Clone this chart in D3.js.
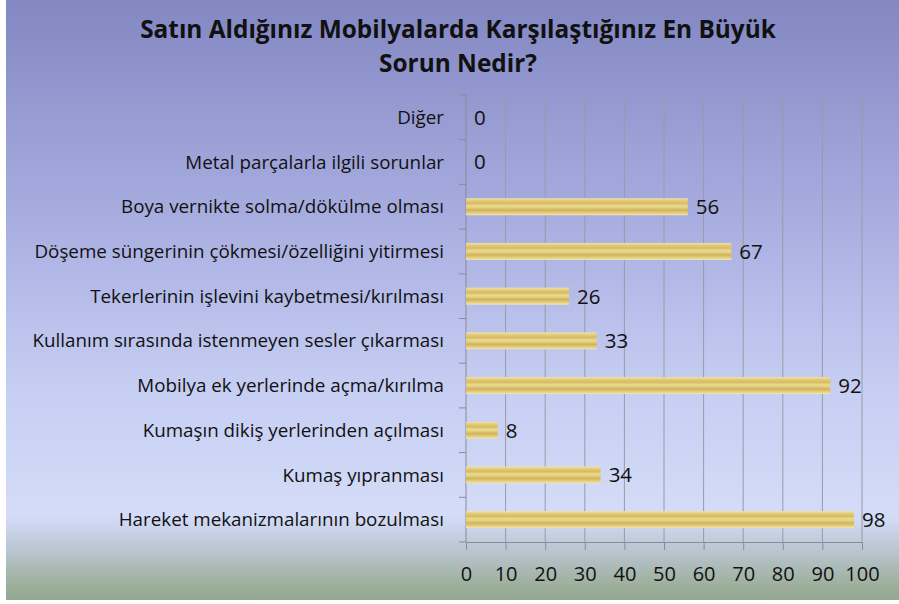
<!DOCTYPE html>
<html>
<head>
<meta charset="utf-8">
<script src="https://cdn.jsdelivr.net/npm/d3@7"></script>
<style>
  body { margin: 0; background: #fff; }
  svg text { font-family: "Open Sans", Lato, sans-serif; fill: #111; }
</style>
</head>
<body>
<svg id="chart" width="899" height="604"></svg>
<script>
// categories top to bottom as shown
var categories = [
  "Diğer",
  "Metal parçalarla ilgili sorunlar",
  "Boya vernikte solma/dökülme olması",
  "Döşeme süngerinin çökmesi/özelliğini yitirmesi",
  "Tekerlerinin işlevini kaybetmesi/kırılması",
  "Kullanım sırasında istenmeyen sesler çıkarması",
  "Mobilya ek yerlerinde açma/kırılma",
  "Kumaşın dikiş yerlerinden açılması",
  "Kumaş yıpranması",
  "Hareket mekanizmalarının bozulması"
];
var values = [0, 0, 56, 67, 26, 33, 92, 8, 34, 98];
var xTicks = [0, 10, 20, 30, 40, 50, 60, 70, 80, 90, 100];
var titleLines = ["Satın Aldığınız Mobilyalarda Karşılaştığınız En Büyük", "Sorun Nedir?"];

var svg = d3.select("#chart");
var defs = svg.append("defs");

var bg = defs.append("linearGradient").attr("id", "bg")
  .attr("x1", 0).attr("y1", 0).attr("x2", 0).attr("y2", 1);
[[0, "#8387c2"], [0.35, "#a7acdf"], [0.65, "#c6cef3"], [0.86, "#d4dcf8"], [0.92, "#b8c4cf"], [0.98, "#9bae98"], [1, "#93a98f"]]
  .forEach(function (s) { bg.append("stop").attr("offset", s[0]).attr("stop-color", s[1]); });

var bar = defs.append("linearGradient").attr("id", "bar")
  .attr("x1", 0).attr("y1", 0).attr("x2", 0).attr("y2", 1);
[[0, "#f0e2a6"], [0.15, "#e2cb78"], [0.3, "#d6bb62"], [0.45, "#ecd98f"], [0.55, "#e6d082"],
 [0.7, "#cfb35a"], [0.85, "#e2cc7c"], [1, "#f2e6b0"]]
  .forEach(function (s) { bar.append("stop").attr("offset", s[0]).attr("stop-color", s[1]); });

svg.append("rect").attr("x", 6).attr("y", 0).attr("width", 893).attr("height", 600)
  .attr("fill", "url(#bg)");

var margin = { left: 466, right: 37, top: 95, bottom: 62 };
var width = 899 - margin.left - margin.right;
var height = 604 - margin.top - margin.bottom;

var x = d3.scaleLinear().domain([0, 100]).range([0, width]);
var y = d3.scaleBand().domain(categories).range([0, height]).paddingInner(0.62).paddingOuter(0.31);

var g = svg.append("g").attr("transform", "translate(" + margin.left + "," + margin.top + ")");

// vertical grid
g.selectAll(".grid").data(xTicks.slice(1)).enter().append("line")
  .attr("x1", function (d) { return x(d); }).attr("x2", function (d) { return x(d); })
  .attr("y1", 0).attr("y2", height)
  .attr("stroke", "#9a9aa8").attr("stroke-width", 1);

// x axis
var xAxis = g.append("g").attr("transform", "translate(0," + height + ")")
  .call(d3.axisBottom(x).tickValues(xTicks).tickSize(8).tickPadding(17));
xAxis.select(".domain").attr("stroke", "#8a8a96");
xAxis.selectAll(".tick line").attr("stroke", "#8a8a96");
xAxis.selectAll("text").style("font-size", "20px").attr("fill", "#111");

// y axis: ticks at category boundaries
var bounds = d3.range(categories.length + 1).map(function (i) { return i * height / categories.length; });
g.append("line").attr("x1", 0).attr("x2", 0).attr("y1", 0).attr("y2", height)
  .attr("stroke", "#8a8a96");
g.selectAll(".ytick").data(bounds).enter().append("line")
  .attr("x1", -7).attr("x2", 0)
  .attr("y1", function (d) { return d; }).attr("y2", function (d) { return d; })
  .attr("stroke", "#8a8a96");

g.selectAll(".cat").data(categories).enter().append("text")
  .attr("x", -22)
  .attr("y", function (d) { return y(d) + y.bandwidth() / 2; })
  .attr("dy", "0.35em")
  .attr("text-anchor", "end")
  .style("font-size", "18.8px")
  .text(function (d) { return d; });

// bars
g.selectAll(".bar").data(values).enter().append("rect")
  .attr("x", 0)
  .attr("y", function (d, i) { return y(categories[i]); })
  .attr("width", function (d) { return x(d); })
  .attr("height", y.bandwidth())
  .attr("fill", "url(#bar)");

g.selectAll(".val").data(values).enter().append("text")
  .attr("x", function (d) { return x(d) + 8; })
  .attr("y", function (d, i) { return y(categories[i]) + y.bandwidth() / 2; })
  .attr("dy", "0.36em")
  .style("font-size", "20.5px")
  .text(function (d) { return d; });

// title
svg.selectAll(".title").data(titleLines).enter().append("text")
  .attr("x", 458)
  .attr("y", function (d, i) { return 38 + i * 34; })
  .attr("text-anchor", "middle")
  .style("font-size", "24.4px")
  .style("font-weight", "bold")
  .text(function (d) { return d; });
</script>
</body>
</html>
